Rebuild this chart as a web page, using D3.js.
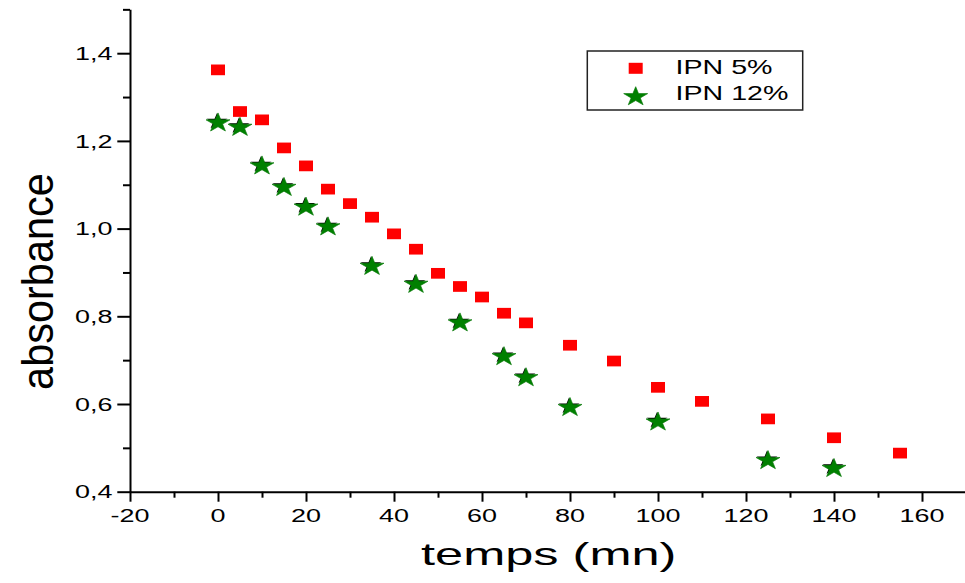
<!DOCTYPE html>
<html>
<head>
<meta charset="utf-8">
<script src="https://cdn.jsdelivr.net/npm/d3@7"></script>
<style>
  html, body { margin: 0; padding: 0; background: #fff; }
  svg { display: block; font-family: "Liberation Sans", Arial, sans-serif; }
</style>
</head>
<body>
<svg id="chart" width="965" height="583"></svg>
<script>
// ---- data ----
const time5 = [0, 5, 10, 15, 20, 25, 30, 35, 40, 45, 50, 55, 60, 65, 70, 80, 90, 100, 110, 125, 140, 155];
const ipn5 = [1.362, 1.267, 1.248, 1.184, 1.143, 1.090, 1.057, 1.026, 0.988, 0.953, 0.898, 0.868, 0.844, 0.807, 0.785, 0.734, 0.698, 0.638, 0.606, 0.566, 0.523, 0.488];
const time12 = [0, 5, 10, 15, 20, 25, 35, 45, 55, 65, 70, 80, 100, 125, 140];
const ipn12 = [1.241, 1.231, 1.143, 1.094, 1.049, 1.004, 0.914, 0.873, 0.785, 0.708, 0.660, 0.592, 0.559, 0.471, 0.453];
const xMajorTicks = [-20, 0, 20, 40, 60, 80, 100, 120, 140, 160];
const xMinorTicks = [-10, 10, 30, 50, 70, 90, 110, 130, 150, 170];
const yMajorTicks = [0.4, 0.6, 0.8, 1.0, 1.2, 1.4];
const yMinorTicks = [0.5, 0.7, 0.9, 1.1, 1.3, 1.5];
const seriesNames = ["IPN 5%", "IPN 12%"];
const xTitle = "temps (mn)";
const yTitle = "absorbance";

// ---- layout ----
const svg = d3.select("#chart");
const x = d3.scaleLinear().domain([-20, 170]).range([130, 966]);
const y = d3.scaleLinear().domain([0.4, 1.5]).range([491.7, 9.35]);
const fmt = v => d3.format(".1f")(v).replace(".", ",");

// minor ticks
svg.append("g").attr("transform", "translate(130,0)")
  .call(d3.axisLeft(y).tickValues(yMinorTicks).tickSize(7).tickSizeOuter(0).tickFormat(""))
  .call(g => g.select(".domain").remove())
  .call(g => g.selectAll("line").attr("stroke", "#000").attr("stroke-width", 2));
svg.append("g").attr("transform", "translate(0,491.7)")
  .call(d3.axisBottom(x).tickValues(xMinorTicks).tickSize(6).tickSizeOuter(0).tickFormat(""))
  .call(g => g.select(".domain").remove())
  .call(g => g.selectAll("line").attr("stroke", "#000").attr("stroke-width", 2));

// major axes
const yAxisG = svg.append("g").attr("transform", "translate(130,0)")
  .call(d3.axisLeft(y).tickValues(yMajorTicks).tickSize(12.7).tickSizeOuter(0).tickFormat(""));
yAxisG.select(".domain").attr("stroke", "#000").attr("stroke-width", 2);
yAxisG.selectAll("line").attr("stroke", "#000").attr("stroke-width", 2);

const xAxisG = svg.append("g").attr("transform", "translate(0,491.7)")
  .call(d3.axisBottom(x).tickValues(xMajorTicks).tickSize(10).tickSizeOuter(0).tickFormat(""));
xAxisG.select(".domain").attr("stroke", "#000").attr("stroke-width", 2);
xAxisG.selectAll("line").attr("stroke", "#000").attr("stroke-width", 2);

// tick labels (horizontally stretched like the reference)
svg.append("g").selectAll("text").data(yMajorTicks).join("text")
  .attr("transform", d => `translate(112.5,${y(d) + 6.7}) scale(1.45,1)`)
  .attr("text-anchor", "end").attr("font-size", 18.6).attr("fill", "#000")
  .text(fmt);
svg.append("g").selectAll("text").data(xMajorTicks).join("text")
  .attr("transform", d => `translate(${x(d)},521.7) scale(1.45,1)`)
  .attr("text-anchor", "middle").attr("font-size", 18.6).attr("fill", "#000")
  .text(d => d);

// axis titles
svg.append("text")
  .attr("transform", "translate(548.7,565) scale(1.63,1)")
  .attr("text-anchor", "middle").attr("font-size", 31).attr("fill", "#000")
  .text(xTitle);
svg.append("text")
  .attr("transform", "translate(53.3,281.5) rotate(-90) scale(1,1.05)")
  .attr("text-anchor", "middle").attr("font-size", 41.5).attr("fill", "#000")
  .text(yTitle);

// ---- marks ----
const starPath = d3.symbol().type(d3.symbolStar).size(112.3)();
const sqW = 14, sqH = 10.7;

svg.append("g").selectAll("rect").data(time5.map((t, i) => [t, ipn5[i]])).join("rect")
  .attr("x", d => x(d[0]) - sqW / 2).attr("y", d => y(d[1]) - sqH / 2)
  .attr("width", sqW).attr("height", sqH).attr("fill", "#ff0000");

const starG = svg.append("g");
const starData = time12.map((t, i) => [t, ipn12[i]]);
starG.selectAll("path.sh").data(starData).join("path").attr("class", "sh")
  .attr("d", starPath)
  .attr("transform", d => `translate(${x(d[0]) - 1},${y(d[1]) - 1.5}) scale(1.1,0.85)`)
  .attr("fill", "#000");
starG.selectAll("path.st").data(starData).join("path").attr("class", "st")
  .attr("d", starPath)
  .attr("transform", d => `translate(${x(d[0])},${y(d[1])}) scale(1.26,1)`)
  .attr("fill", "#008000").attr("stroke", "#0a7a0a").attr("stroke-width", 0.6);

// ---- legend ----
const lg = svg.append("g");
lg.append("rect").attr("x", 587.3).attr("y", 51).attr("width", 215.4).attr("height", 59)
  .attr("fill", "#fff").attr("stroke", "#222").attr("stroke-width", 1.5);
lg.append("rect").attr("x", 635.7 - sqW / 2).attr("y", 68.3 - 5.5).attr("width", sqW).attr("height", 11)
  .attr("fill", "#ff0000");
lg.append("path").attr("d", starPath)
  .attr("transform", "translate(635.7,96.7) scale(1.26,1)")
  .attr("fill", "#008000").attr("stroke", "#0a7a0a").attr("stroke-width", 0.6);
lg.selectAll("text.lt").data(seriesNames).join("text").attr("class", "lt")
  .attr("transform", (d, i) => `translate(675.6,${i === 0 ? 74.3 : 100}) scale(1.43,1)`)
  .attr("font-size", 20).attr("fill", "#000")
  .text(d => d);
</script>
</body>
</html>
